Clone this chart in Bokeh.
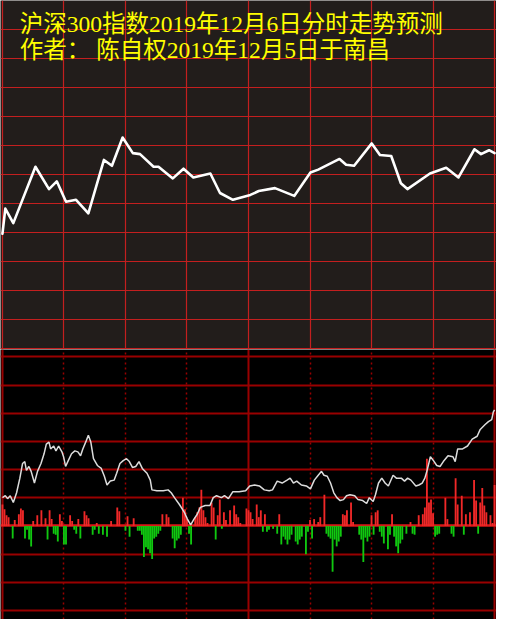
from bokeh.plotting import figure
from bokeh.models import FixedTicker, Grid, Label, Range1d
from bokeh.layouts import column
from bokeh.embed import file_html
from bokeh.resources import INLINE

# ---------------- data ----------------
title_1 = "沪深300指数2019年12月6日分时走势预测"
title_2 = "作者： 陈自权2019年12月5日于南昌"

# time axis: minutes of the trading day (0..240)
time_ticks = [0, 30, 60, 90, 120, 150, 180, 210, 240]
solid_time_ticks = [0, 120, 240]
dotted_time_ticks = [30, 60, 90, 150, 180, 210]

# top panel: forecast curve
pred_t = [0, 1.4, 5.3, 16.1, 22.7, 26.5, 31, 35.9, 41.9, 49.5, 53.4, 58.6, 63.6, 67.1,
          73.7, 76.1, 83.1, 88.3, 93.1, 101.4, 106.1, 112.4, 120.9, 125, 132.9, 142.3,
          150.2, 154, 164.4, 167.6, 171.5, 180.1, 184.1, 189.6, 194.3, 197.5, 208.5,
          216.4, 222.4, 230.2, 233.4, 237.3, 240]
pred_v = [118, 144, 129, 187, 164, 172, 151, 153, 139, 194, 188, 217, 201, 200,
          187, 187, 175, 185, 176, 180, 160, 153, 158, 162, 165, 157,
          181, 184, 195, 189, 188, 211, 199, 198, 170, 164, 180,
          186, 176, 205, 200, 204, 201]
top_ticks = [0, 29.83, 59.67, 89.5, 119.33, 149.17, 179, 208.83, 238.67, 268.5, 298.33, 328.17, 358]

# bottom panel: actual index line
act_t = [0, 1.4, 2.5, 3.8, 5.3, 6.9, 8.5, 9.8, 10.9, 11.7, 12.9, 14, 15.6, 17.1, 18.8, 20.3,
         21.4, 22.7, 23.5, 25, 26.1, 27.4, 29, 29.8, 30.8, 32.1, 33.7, 35.3, 36.8, 38.1, 39.2,
         40.8, 41.9, 43.1, 44.4, 46.3, 48.2, 49.7, 51, 52.6, 54.5, 55.7, 57.3, 58.9, 60.5,
         61.9, 63.4, 65, 66.6, 68.2, 70.5, 72.1, 72.9, 75.3, 78.4, 80.8, 82.3, 83.9, 86.3,
         88.7, 90.2, 91.8, 93.4, 95, 96.5, 98.9, 101.2, 102.8, 104.4, 106.8, 108.3, 110.2,
         112.3, 115.4, 118.6, 120.6, 123, 125.3, 127.7, 130.1, 131.7, 134, 136.4, 138.8,
         140.3, 141.9, 143.5, 145.8, 148.2, 150.2, 152.1, 154, 155.6, 156.8, 158.4, 160,
         161.6, 163.1, 164.7, 166.3, 167.8, 169.5, 171.8, 173.4, 175.7, 177.6, 178.9, 180.8,
         181.9, 183.4, 185, 186.6, 188.2, 190.5, 192.1, 194.5, 196.1, 197.6, 199.2, 201.6,
         203.1, 204.7, 206, 207.1, 208.7, 210.2, 211.8, 213.4, 215, 217.3, 219.7, 220.8,
         222, 224.4, 226.8, 229.1, 231.5, 233, 235.4, 237, 238.6, 239.4, 240]
act_v = [29, 31, 28, 31, 24, 34, 49, 64, 66, 57, 61, 56, 44, 56, 64, 74,
         84, 86, 79, 82, 77, 82, 76, 71, 61, 67, 74, 77, 76, 72, 79,
         87, 93, 86, 69, 62, 59, 51, 42, 46, 47, 54, 64, 67, 69,
         66, 60, 61, 66, 59, 54, 47, 37, 36, 36, 37, 34, 29, 22,
         14, 7, 1, 7, 12, 19, 21, 21, 29, 31, 29, 31, 28,
         35, 35, 36, 41, 42, 41, 37, 36, 37, 46, 44, 47,
         49, 44, 46, 42, 41, 38, 47, 52, 56, 52, 51, 44,
         34, 29, 26, 27, 31, 32, 31, 27, 26, 23, 29, 25,
         32, 44, 49, 44, 41, 52, 49, 49, 46, 49, 47, 41,
         42, 44, 49, 57, 71, 67, 62, 61, 66, 72, 71, 66,
         79, 79, 82, 89, 92, 99, 104, 107, 109, 117, 119]

# bottom panel: up (red) and down (green) bars
up_t = [0, 1, 2, 3, 6, 8, 9, 10, 15, 17, 19, 21, 23, 24, 28, 29, 33, 34, 37, 40, 41, 42, 46,
        53, 56, 57, 61, 64, 78, 80, 81, 88, 89, 90, 94, 95, 96, 97, 98, 99, 100, 102, 103,
        105, 106, 108, 109, 111, 113, 114, 115, 116, 119, 120, 121, 122, 124, 125, 126,
        128, 135, 150, 152, 154, 155, 157, 166, 167, 168, 170, 171, 180, 182, 183, 190,
        199, 203, 205, 206, 207, 208, 209, 210, 216, 217, 221, 222, 224, 226, 228, 230,
        231, 233, 234, 235, 236, 238, 239, 240]
up_v = [22, 17, 11, 9, 6, 12, 18, 16, 5, 11, 16, 8, 16, 7, 12, 5, 11, 5, 7, 15, 11, 8, 3,
        5, 19, 15, 10, 8, 12, 12, 9, 29, 17, 7, 9, 14, 19, 37, 16, 9, 3, 24, 19,
        11, 27, 14, 6, 16, 21, 12, 9, 3, 18, 16, 14, 7, 22, 9, 16,
        12, 12, 6, 7, 4, 9, 32, 12, 11, 16, 24, 4, 11, 14, 16, 12,
        4, 11, 12, 19, 69, 24, 27, 13, 29, 7, 49, 22, 31, 12, 14, 47,
        26, 24, 39, 21, 14, 11, 3, 42]
down_t = [5, 11, 12, 13, 14, 22, 25, 26, 27, 30, 31, 35, 36, 38, 44, 45, 47, 49, 51, 60, 62,
          66, 67, 68, 69, 70, 71, 72, 73, 74, 75, 76, 77, 83, 84, 85, 86, 87, 91, 92, 104,
          107, 127, 129, 130, 132, 134, 136, 137, 138, 139, 140, 141, 143, 144, 145, 146,
          148, 149, 151, 158, 159, 160, 161, 162, 163, 164, 165, 174, 175, 176, 177, 178,
          179, 181, 184, 185, 186, 188, 189, 191, 192, 193, 194, 195, 197, 200, 201, 211,
          212, 213, 219, 220, 225, 232]
down_v = [-13, -13, -4, -14, -21, -14, -8, -9, -16, -19, -19, -4, -8, -13, -9, -4, -8, -9, -11, -5, -11,
          -5, -5, -9, -32, -22, -24, -28, -34, -13, -11, -8, -5, -13, -23, -15, -13, -9, -8, -19, -14,
          -3, -6, -6, -4, -3, -8, -19, -11, -14, -19, -14, -9, -16, -19, -14, -11,
          -29, -6, -13, -8, -11, -13, -47, -14, -21, -16, -11, -9, -14, -37, -12, -16,
          -11, -9, -6, -11, -18, -24, -9, -11, -21, -28, -18, -14, -8, -8, -9, -11,
          -9, -8, -8, -11, -9, -8]
bottom_ticks = [-86.7, -57.8, -28.9, 28.9, 57.8, 86.7, 115.6, 144.5, 173.4]
zero_tick = [0]

# ---------------- styling ----------------
W = 496
H_TOP = 349
H_BOT = 270
TOP_BG = "#221d1b"
BOT_BG = "#000000"
GRID_TOP = "#c41f1f"
GRID_BOT = "#990000"
TITLE_FONT = "Liberation Serif, Noto Sans CJK SC"

x_range = Range1d(-0.945, 240.94)

top = figure(width=W, height=H_TOP, x_range=x_range, y_range=Range1d(-1, 358),
             output_backend="svg", toolbar_location=None, min_border=0)
top.background_fill_color = TOP_BG
top.border_fill_color = TOP_BG
top.outline_line_color = None
top.xaxis.visible = False
top.yaxis.visible = False
top.xgrid.ticker = FixedTicker(ticks=time_ticks)
top.ygrid.ticker = FixedTicker(ticks=top_ticks)
for g in (top.xgrid, top.ygrid):
    g.grid_line_color = GRID_TOP
    g.grid_line_width = 1.2
    g.grid_line_alpha = 1.0

top.line(pred_t, pred_v, line_color="#ffffff", line_width=2.6, line_join="round", line_cap="round")

top.add_layout(Label(x=8.5, y=334, text=title_1, text_color="#ffff00",
                     text_font=TITLE_FONT, text_font_size="23.5px",
                     text_baseline="middle", text_align="left"))
top.add_layout(Label(x=8.5, y=307, text=title_2, text_color="#ffff00",
                     text_font=TITLE_FONT, text_font_size="23.5px",
                     text_baseline="middle", text_align="left"))

bot = figure(width=W, height=H_BOT, x_range=x_range, y_range=Range1d(-96, 181),
             output_backend="svg", toolbar_location=None, min_border=0)
bot.background_fill_color = BOT_BG
bot.border_fill_color = BOT_BG
bot.outline_line_color = None
bot.xaxis.visible = False
bot.yaxis.visible = False
bot.xgrid.visible = False
bot.ygrid.ticker = FixedTicker(ticks=bottom_ticks)
bot.ygrid.grid_line_color = GRID_BOT
bot.ygrid.grid_line_width = 2
bot.add_layout(Grid(dimension=0, ticker=FixedTicker(ticks=solid_time_ticks),
                    grid_line_color=GRID_BOT, grid_line_width=2))
bot.add_layout(Grid(dimension=0, ticker=FixedTicker(ticks=dotted_time_ticks),
                    grid_line_color=GRID_BOT, grid_line_width=1.5, grid_line_dash="2 3"))
bot.add_layout(Grid(dimension=1, ticker=FixedTicker(ticks=zero_tick),
                    grid_line_color="#d81818", grid_line_width=2.5))

bot.vbar(x=up_t, top=up_v, bottom=0, width=0.9, fill_color="#f02828", line_color=None)
bot.vbar(x=down_t, top=0, bottom=down_v, width=0.9, fill_color="#10c810", line_color=None)
bot.line(act_t, act_v, line_color="#dcdcdc", line_width=1.5)

layout = column(top, bot, spacing=0)
open("out.html", "w").write(file_html(layout, INLINE))
